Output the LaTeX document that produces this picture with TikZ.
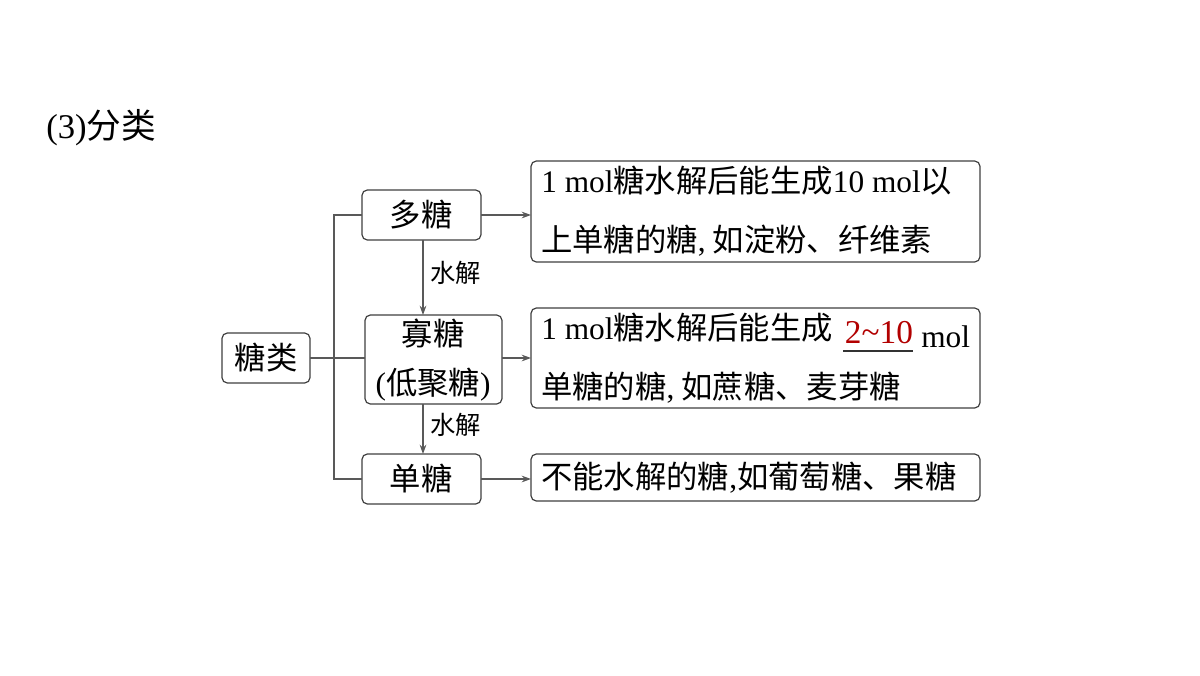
\documentclass[tikz,border=0pt]{standalone}
\usepackage{fontspec}
\setmainfont{Noto Sans CJK SC}
\newfontfamily\lat{Liberation Serif}
\usetikzlibrary{arrows.meta}
\begin{document}
\begin{tikzpicture}[x=0.75pt,y=-0.75pt,
  box/.style={draw=black!75,line width=0.9pt,rounded corners=4pt},
  ln/.style={draw=black!65,line width=0.9pt},
  arr/.style={ln,-{Stealth[length=7pt,width=5pt]}},
  txt/.style={font=\fontsize{23.5}{34}\selectfont,anchor=west,align=left,inner sep=0pt}]
\useasboundingbox (0,0) rectangle (1200,675);
\fill[white] (0,0) rectangle (1200,675);
\node[txt,font=\fontsize{26}{30}\selectfont] (title) at (46,128) {{\lat (3)}分类};
% left boxes
\draw[box] (222,333) rectangle (310,383);
\node[txt,anchor=center] (tl) at (266,358) {糖类};
\draw[box] (362,190) rectangle (481,240);
\node[txt,anchor=center] (dt) at (421,215) {多糖};
\draw[box] (365,315) rectangle (502,404);
\node[txt,anchor=center,align=center,font=\fontsize{23.5}{37}\selectfont] (gt) at (433,360) {寡糖\\{\lat (}低聚糖{\lat )}};
\draw[box] (362,454) rectangle (481,504);
\node[txt,anchor=center] (st) at (421,479) {单糖};
% right boxes
\draw[box] (531,161) rectangle (980,262);
\node[txt,font=\fontsize{23.5}{44}\selectfont] (r1) at (541,211) {{\lat 1 mol}糖水解后能生成{\lat 10 mol}以\\上单糖的糖{\lat ,} 如淀粉、纤维素};
\draw[box] (531,308) rectangle (980,408);
\node[txt,font=\fontsize{23.5}{44}\selectfont] (r2) at (541,358) {{\lat 1 mol}糖水解后能生成\\单糖的糖{\lat ,} 如蔗糖、麦芽糖};
\node[txt,font=\lat\fontsize{23.5}{26}\selectfont] (mol) at (921,337) {mol};
\node[inner sep=0pt,text=red!70!black,font=\lat\fontsize{25}{26}\selectfont] (num) at (879,333) {2\textasciitilde10};
\draw[black!80,line width=0.8pt] (843,351) -- (913,351);
\draw[box] (531,454) rectangle (980,501);
\node[txt] (r3) at (541,478) {不能水解的糖{\lat ,}如葡萄糖、果糖};
% connectors
\coordinate (j1) at (334,215);
\coordinate (j2) at (334,358);
\coordinate (j3) at (334,479);
\draw[ln] (310,358) -- (j2) -- (365,358);
\draw[ln] (362,215) -- (j1) -- (j3) -- (362,479);
\draw[arr] (481,215) -- (531,215);
\draw[arr] (502,358) -- (531,358);
\draw[arr] (481,479) -- (531,479);
\draw[arr] (423,240) -- (423,315);
\draw[arr] (423,404) -- (423,454);
\node[txt,font=\fontsize{19}{22}\selectfont] (h1) at (430,273) {水解};
\node[txt,font=\fontsize{19}{22}\selectfont] (h2) at (430,425) {水解};
\end{tikzpicture}
\end{document}
